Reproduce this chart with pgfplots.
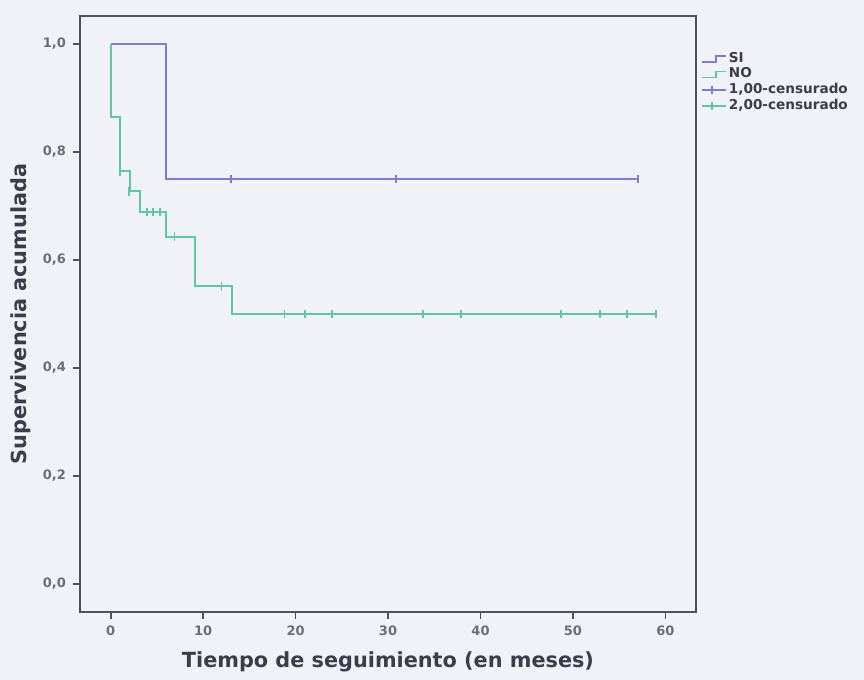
\documentclass[border=0pt]{standalone}
\usepackage{pgfplots}
\pgfplotsset{compat=1.18}
\usepackage{fontspec}
\setmainfont{DejaVu Sans}

\definecolor{fondo}{RGB}{241,242,247}
\definecolor{eje}{RGB}{80,80,95}
\definecolor{texto}{RGB}{60,60,75}
\definecolor{si}{RGB}{125,125,205}
\definecolor{no}{RGB}{95,200,160}

\pgfplotsset{
    escalon/.style={legend image code/.code={%
        \draw[##1, line width=0.8pt] (0pt,-1.5pt) -- (7pt,-1.5pt) -- (7pt,1.5pt) -- (12pt,1.5pt);}},
    censura/.style={legend image code/.code={%
        \draw[##1, line width=0.8pt] (0pt,0pt) -- (12pt,0pt);
        \draw[##1, line width=0.8pt] (5pt,-2pt) -- (5pt,2pt);}},
}

\begin{document}
\begin{tikzpicture}
\path[use as bounding box, fill=fondo] (0,0) rectangle (432pt,340pt);
\begin{axis}[
    scale only axis,
    width=308pt, height=298pt,
    at={(40pt,34pt)}, anchor=south west,
    xmin=-3.31, xmax=63.3,
    ymin=-0.052, ymax=1.052,
    xtick={0,10,...,60},
    ytick={0,0.2,...,1},
    axis line style={eje, line width=1pt},
    tick style={eje, line width=0.9pt},
    tick align=outside,
    major tick length=3.5pt,
    xtick pos=bottom, ytick pos=left,
    /pgf/number format/assume math mode=true,
    yticklabel style={/pgf/number format/.cd, use comma, fixed, fixed zerofill, precision=1},
    ticklabel style={font=\fontsize{6.5}{8}\selectfont\bfseries, text=texto!75},
    xlabel={Tiempo de seguimiento (en meses)},
    ylabel={Supervivencia acumulada},
    label style={font=\fontsize{10.4}{12}\selectfont\bfseries, text=texto},
    xlabel style={yshift=-1pt},
    ylabel style={yshift=-1pt},
    legend style={at={(rel axis cs:1.008,0.943)}, anchor=north west, draw=none, fill=none,
        font=\fontsize{6.8}{7.5}\selectfont\bfseries, text=texto, inner sep=0pt,
        row sep=-0.8pt, nodes={inner sep=1pt}},
    legend cell align=left,
]
% curvas de supervivencia
\addplot[si, line width=1pt, const plot, escalon]
    coordinates {(0,1) (6,0.75) (57,0.75)};
\addlegendentry{SI}
\addplot[no, line width=1pt, const plot, escalon]
    coordinates {(0,1) (0,0.864) (1,0.764) (2.08,0.727) (3.16,0.689) (5.97,0.643) (9.1,0.551) (13.1,0.50) (59,0.50)};
\addlegendentry{NO}
% censurados
\addplot[si, only marks, mark=|, mark size=2.2pt, mark options={line width=0.9pt}, censura]
    coordinates {(13,0.75) (30.9,0.75) (57,0.75)};
\addlegendentry{1,00-censurado}
\addplot[no, only marks, mark=|, mark size=2.2pt, mark options={line width=0.9pt}, censura]
    coordinates {(1,0.764) (2,0.727) (3.9,0.689) (4.6,0.689) (5.3,0.689) (6.9,0.643) (12.0,0.551)
        (18.8,0.50) (21.0,0.50) (23.9,0.50) (33.8,0.50) (37.9,0.50) (48.7,0.50) (52.9,0.50) (55.8,0.50) (59,0.50)};
\addlegendentry{2,00-censurado}
\end{axis}
\end{tikzpicture}
\end{document}
